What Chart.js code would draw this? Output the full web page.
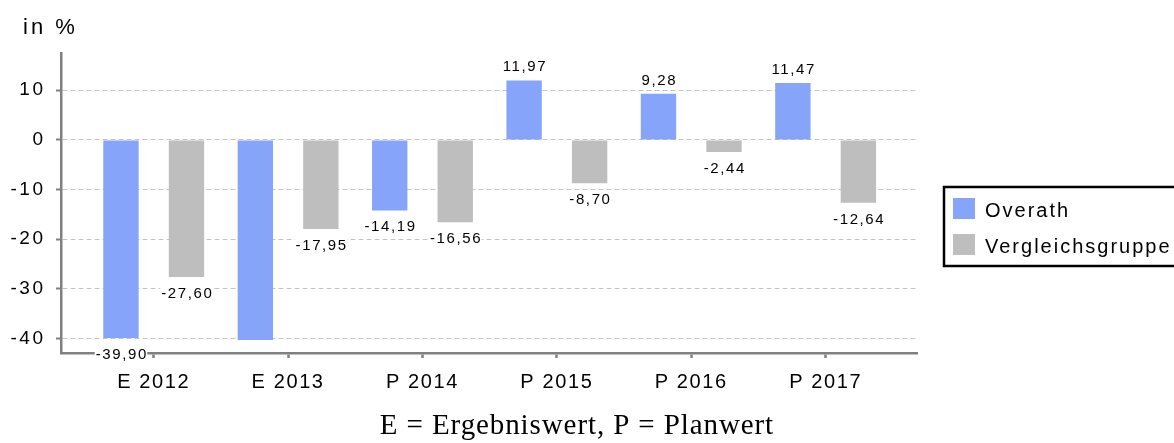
<!DOCTYPE html>
<html>
<head>
<meta charset="utf-8">
<script src="https://cdn.jsdelivr.net/npm/chart.js@4"></script>
<style>
html,body{margin:0;padding:0;background:#fff;}
#wrap{width:1174px;height:443px;position:relative;}
</style>
</head>
<body>
<div id="wrap"><canvas id="c" width="1174" height="443"></canvas></div>
<script>
const categories = ['E 2012', 'E 2013', 'P 2014', 'P 2015', 'P 2016', 'P 2017'];
const overath = [-39.90, -40.30, -14.19, 11.97, 9.28, 11.47];
const vergleichsgruppe = [-27.60, -17.95, -16.56, -8.70, -2.44, -12.64];
const overathShowLabel = [true, false, true, true, true, true];
const vergleichShowLabel = [true, true, true, true, true, true];
const yTicks = [10, 0, -10, -20, -30, -40];
const seriesNames = ['Overath', 'Vergleichsgruppe'];
const yUnit = 'in %';
const footnote = 'E = Ergebniswert, P = Planwert';

const SANS = '"Liberation Sans", Arial, sans-serif';
const SERIF = '"Liberation Serif", "Times New Roman", serif';

const fmt = v => v.toFixed(2).replace('.', ',');

const spacingPlugin = {
  id: 'spacing',
  beforeDraw(chart) {
    const conf = { x: '1.6px', y: '2.5px' };
    for (const id of Object.keys(conf)) {
      const s = chart.scales[id];
      if (s && !s._spWrapped) {
        const orig = s.drawLabels;
        s.drawLabels = function (area) {
          const c = this.ctx;
          c.save();
          c.letterSpacing = conf[id];
          orig.call(this, area);
          c.restore();
        };
        s._spWrapped = true;
      }
    }
  }
};

const labelPlugin = {
  id: 'barLabels',
  afterDatasetsDraw(chart) {
    const ctx = chart.ctx;
    const shows = [overathShowLabel, vergleichShowLabel];
    ctx.save();
    ctx.font = '15px ' + SANS;
    ctx.letterSpacing = '1.6px';
    ctx.textAlign = 'left';
    ctx.textBaseline = 'alphabetic';
    chart.data.datasets.forEach((ds, di) => {
      const meta = chart.getDatasetMeta(di);
      meta.data.forEach((el, i) => {
        if (!shows[di][i]) return;
        const v = ds.data[i].y;
        const txt = fmt(v);
        const w = ctx.measureText(txt).width - 1.6;
        const x = el.x - w / 2;
        const base = v >= 0 ? el.y - 9 : el.y + 21;
        ctx.fillStyle = '#ffffff';
        ctx.fillRect(x - 1, base - 11.5, w + 2, 14);
        ctx.fillStyle = '#000000';
        ctx.fillText(txt, x, base);
      });
    });
    ctx.restore();
  }
};

const decorPlugin = {
  id: 'decor',
  afterDraw(chart) {
    const ctx = chart.ctx;
    ctx.save();
    ctx.font = '22px ' + SANS;
    ctx.letterSpacing = '3px';
    ctx.fillStyle = '#000';
    ctx.textAlign = 'left';
    ctx.textBaseline = 'alphabetic';
    ctx.fillText(yUnit, 23, 34);
    ctx.font = '29px ' + SERIF;
    ctx.letterSpacing = '0.9px';
    const fw = ctx.measureText(footnote).width - 0.9;
    ctx.fillText(footnote, 576.5 - fw / 2, 434);
    ctx.letterSpacing = '2px';
    ctx.lineWidth = 2.5;
    ctx.strokeStyle = '#000';
    ctx.strokeRect(944, 187, 240, 79);
    ctx.font = '20px ' + SANS;
    chart.data.datasets.forEach((ds, i) => {
      const top = 198 + i * 36;
      ctx.fillStyle = ds.backgroundColor;
      ctx.fillRect(953, top, 22, 21);
      ctx.fillStyle = '#000';
      ctx.fillText(ds.label, 985, top + 18.5);
    });
    ctx.restore();
  }
};

new Chart(document.getElementById('c'), {
  type: 'bar',
  data: {
    datasets: [
      {
        label: seriesNames[0],
        data: overath.map((v, i) => ({ x: i, y: v })),
        backgroundColor: '#86a4fa'
      },
      {
        label: seriesNames[1],
        data: vergleichsgruppe.map((v, i) => ({ x: i, y: v })),
        backgroundColor: '#bebebe'
      }
    ]
  },
  options: {
    responsive: false,
    animation: false,
    devicePixelRatio: 1,
    layout: { padding: { left: 0, top: 53, right: 257, bottom: 0 } },
    datasets: {
      bar: { categoryPercentage: 0.975, barPercentage: 0.54 }
    },
    plugins: {
      legend: { display: false },
      tooltip: { enabled: false },
      title: { display: false }
    },
    scales: {
      x: {
        type: 'linear',
        min: -0.69,
        max: 5.68,
        offset: false,
        afterFit: s => { s.height = 90; },
        afterBuildTicks: s => { s.ticks = categories.map((_, i) => ({ value: i })); },
        grid: {
          display: true,
          offset: false,
          drawOnChartArea: false,
          drawTicks: true,
          tickLength: 5,
          tickColor: '#808080',
          tickWidth: 2.5
        },
        border: { display: true, color: '#808080', width: 2.5 },
        ticks: {
          autoSkip: false,
          maxRotation: 0,
          padding: 12,
          color: '#000',
          font: { family: SANS, size: 20 },
          callback: v => categories[v]
        }
      },
      y: {
        min: -42.9,
        max: 17.5,
        afterFit: s => { s.width = 61; },
        afterBuildTicks: s => { s.ticks = yTicks.map(v => ({ value: v })); },
        grid: {
          display: true,
          drawOnChartArea: true,
          drawTicks: true,
          color: '#c4c4c4',
          lineWidth: 1,
          tickLength: 5,
          tickColor: '#808080',
          tickWidth: 2,
          tickBorderDash: []
        },
        border: { display: true, color: '#808080', width: 2.5, dash: [5, 3] },
        ticks: {
          padding: 10.5,
          color: '#000',
          font: { family: SANS, size: 19 },
          callback: v => String(v)
        }
      }
    }
  },
  plugins: [spacingPlugin, labelPlugin, decorPlugin]
});
</script>
</body>
</html>
